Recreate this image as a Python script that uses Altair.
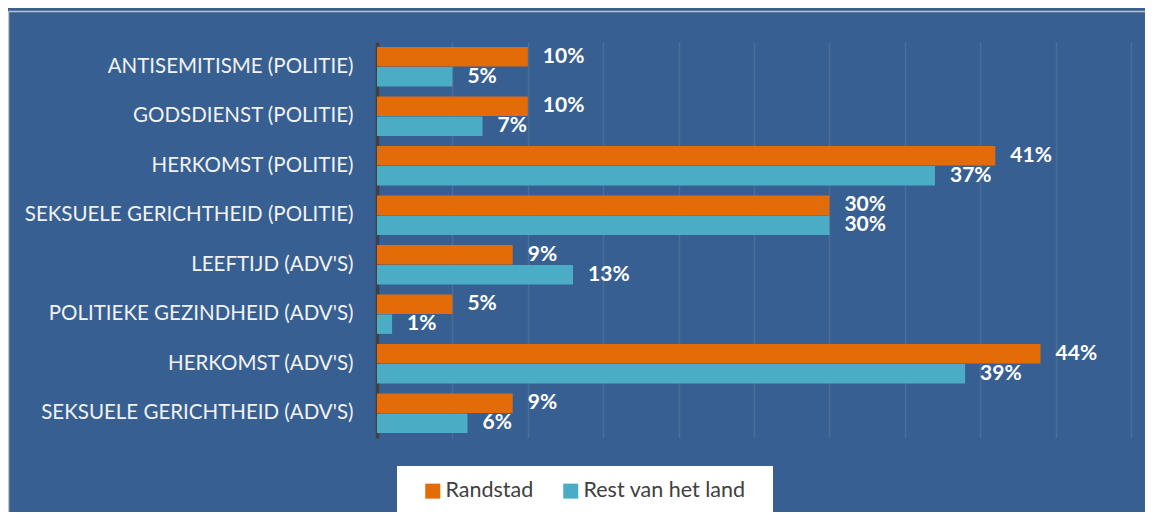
import altair as alt
import pandas as pd

categories = [
    "ANTISEMITISME (POLITIE)",
    "GODSDIENST (POLITIE)",
    "HERKOMST (POLITIE)",
    "SEKSUELE GERICHTHEID (POLITIE)",
    "LEEFTIJD (ADV'S)",
    "POLITIEKE GEZINDHEID (ADV'S)",
    "HERKOMST (ADV'S)",
    "SEKSUELE GERICHTHEID (ADV'S)",
]
series = ["Randstad", "Rest van het land"]
randstad = [0.10, 0.10, 0.41, 0.30, 0.09, 0.05, 0.44, 0.09]
rest = [0.05, 0.07, 0.37, 0.30, 0.13, 0.01, 0.39, 0.06]
colors = ["#E36C09", "#4BACC6"]
x_ticks = [i * 0.05 for i in range(11)]

rows = []
for i, c in enumerate(categories):
    rows.append({"cat": c, "series": series[0], "value": randstad[i]})
    rows.append({"cat": c, "series": series[1], "value": rest[i]})
df = pd.DataFrame(rows)

FONT = "Lato"
W, H = 754, 396

y_enc = alt.Y("cat:N", sort=categories, title=None,
              scale=alt.Scale(paddingInner=0.2, paddingOuter=0.1),
              axis=alt.Axis(labelColor="#F2F2F2", labelFont=FONT, labelFontSize=20.5,
                            labelPadding=24, ticks=False, domainColor="#404040",
                            domainWidth=3.5, labelLimit=400))
yoff = alt.YOffset("series:N", sort=series)
x_enc = alt.X("value:Q", title=None,
              scale=alt.Scale(domain=[0, 0.5], nice=False),
              axis=alt.Axis(values=x_ticks, labels=False, ticks=False, domain=False,
                            grid=True, gridColor="#4E6D96", gridWidth=1.5))

base = alt.Chart(df)

bars = base.mark_bar(size=19.5).encode(
    x=x_enc,
    y=y_enc,
    yOffset=yoff,
    color=alt.Color("series:N", sort=series,
                    scale=alt.Scale(domain=series, range=colors),
                    legend=alt.Legend(title=None, orient="none", direction="horizontal",
                                      legendX=45, legendY=438, symbolType="square",
                                      symbolSize=225, symbolStrokeWidth=0,
                                      labelFont=FONT, labelFontSize=21.5,
                                      labelColor="#404040", columnPadding=26,
                                      labelOffset=2, labelLimit=300)),
)

labels = base.mark_text(align="left", baseline="middle", dx=15, font=FONT,
                        fontSize=21, fontWeight="bold", color="white").encode(
    x="value:Q",
    y=alt.Y("cat:N", sort=categories),
    yOffset=alt.YOffset("series:N", sort=series),
    text=alt.Text("value:Q", format=".0%"),
)

deco = alt.Chart(pd.DataFrame({"a": [0]}))
legend_box = deco.mark_rect(color="white").encode(
    x=alt.value(20), x2=alt.value(396), y=alt.value(424), y2=alt.value(470))
border_v = deco.mark_rule(color="#C0C4CC", strokeWidth=1.5).encode(
    x=alt.value(-368.5), y=alt.value(-30.5), y2=alt.value(480))
border_h = deco.mark_rule(color="#C0C4CC", strokeWidth=1.5).encode(
    x=alt.value(-368.5), x2=alt.value(780), y=alt.value(-30.5))

chart = alt.layer(legend_box, border_v, border_h, labels, bars).properties(
    width=W, height=H,
    autosize="none",
    padding={"left": 369, "top": 34, "right": 14, "bottom": 74},
    background="#375F91",
).configure_view(stroke=None)

chart.save("out.html", embed_options={"renderer": "svg", "actions": False})
